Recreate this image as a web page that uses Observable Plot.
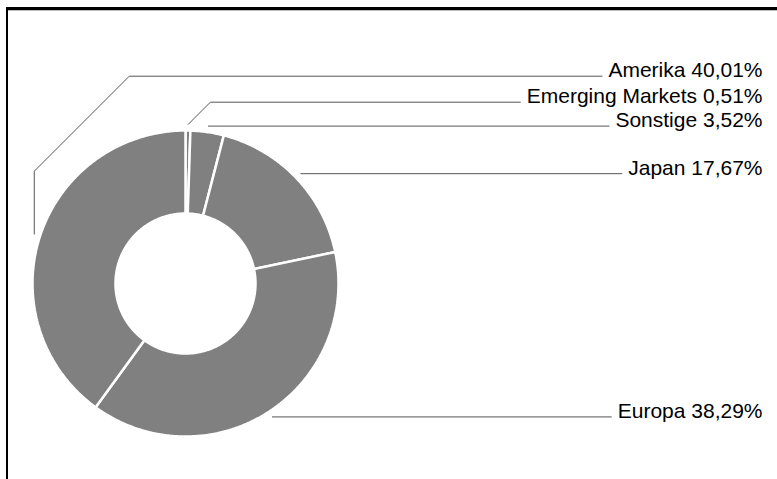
<!DOCTYPE html>
<html>
<head>
<meta charset="utf-8">
<script src="https://cdn.jsdelivr.net/npm/d3@7"></script>
<script src="https://cdn.jsdelivr.net/npm/@observablehq/plot@0.6"></script>
<style>
  body { margin: 0; background: #fff; }
  #wrap { position: relative; width: 777px; height: 479px; overflow: hidden; background: #fff; }
  #wrap svg { position: absolute; left: 0; top: 0; }
  #frame { position: absolute; left: 6px; top: 7px; width: 900px; height: 600px;
           border-top: 3px solid #000; border-left: 2.5px solid #000;
           box-shadow: inset 0 1px 0 #bbb; pointer-events: none; }
</style>
</head>
<body>
<div id="wrap"></div>
<script>
// ---- data (clockwise from 12 o'clock) ----
const regions = ["Emerging Markets", "Sonstige", "Japan", "Europa", "Amerika"];
const shares  = [0.51, 3.52, 17.67, 38.29, 40.01];

// ---- layout ----
const W = 777, H = 479;
const cx = 185, cy = 283, R = 153, r0 = 70, rLead = 159;
const textRight = 762, textGap = 6, maxDiag = 95;
const fontSize = 21, fontFamily = "'Liberation Sans', Arial, Helvetica, sans-serif";
const labelRowY = { "Amerika": 75.7, "Emerging Markets": 101.7 }; // rows for displaced labels

const total = d3.sum(shares);
let acc = 0;
const slices = regions.map((name, i) => {
  const a0 = acc / total * 2 * Math.PI; acc += shares[i];
  const a1 = acc / total * 2 * Math.PI;
  return { name, value: shares[i], a0, a1, mid: (a0 + a1) / 2 };
});
const pt = (a, rad) => [cx + rad * Math.sin(a), cy - rad * Math.cos(a)];

// slice polygons
const ring = [];
for (const s of slices) {
  const n = Math.max(4, Math.ceil((s.a1 - s.a0) / 0.01));
  const poly = [];
  for (let k = 0; k <= n; k++) poly.push(pt(s.a0 + (s.a1 - s.a0) * k / n, R));
  for (let k = n; k >= 0; k--) poly.push(pt(s.a0 + (s.a1 - s.a0) * k / n, r0));
  poly.push(poly[0]);
  for (const [x, y] of poly) ring.push({ name: s.name, x, y });
}

// labels + leader lines
const ctx = document.createElement("canvas").getContext("2d");
ctx.font = `${fontSize}px ${fontFamily}`;
const fmt = v => v.toFixed(2).replace(".", ",") + "%";
const labels = [], leaders = [];
for (const s of slices) {
  const text = `${s.name} ${fmt(s.value)}`;
  const [sx, sy] = pt(s.mid, rLead);
  const ly = labelRowY[s.name] ?? sy;
  const endX = textRight - ctx.measureText(text).width - textGap;
  const path = [[sx, sy]];
  const dy = sy - ly;
  if (Math.abs(dy) > 0.5) {
    const diag = Math.min(dy, maxDiag);
    if (dy > diag) path.push([sx, ly + diag]);
    path.push([sx + diag, ly]);
  }
  path.push([endX, ly]);
  for (const [x, y] of path) leaders.push({ name: s.name, x, y });
  labels.push({ text, x: textRight, y: ly + 1 });
}

const chart = Plot.plot({
  width: W, height: H, margin: 0,
  x: { domain: [0, W], range: [0, W], axis: null },
  y: { domain: [0, H], range: [0, H], axis: null },
  marks: [
    Plot.line(ring, { x: "x", y: "y", z: "name", fill: "#808080", stroke: "#fff",
                      strokeWidth: 2.5, strokeLinejoin: "miter", curve: "linear" }),
    Plot.line(leaders, { x: "x", y: "y", z: "name", stroke: "#555", strokeWidth: 1,
                         strokeLinejoin: "miter", strokeLinecap: "butt" }),
    Plot.text(labels, { x: d => d.x, y: d => d.y, text: "text", textAnchor: "end",
                        lineAnchor: "bottom", fontSize, fontFamily, fill: "#000" })
  ]
});
const wrap = document.getElementById("wrap");
wrap.appendChild(chart);
const frame = document.createElement("div");
frame.id = "frame";
wrap.appendChild(frame);
</script>
</body>
</html>
